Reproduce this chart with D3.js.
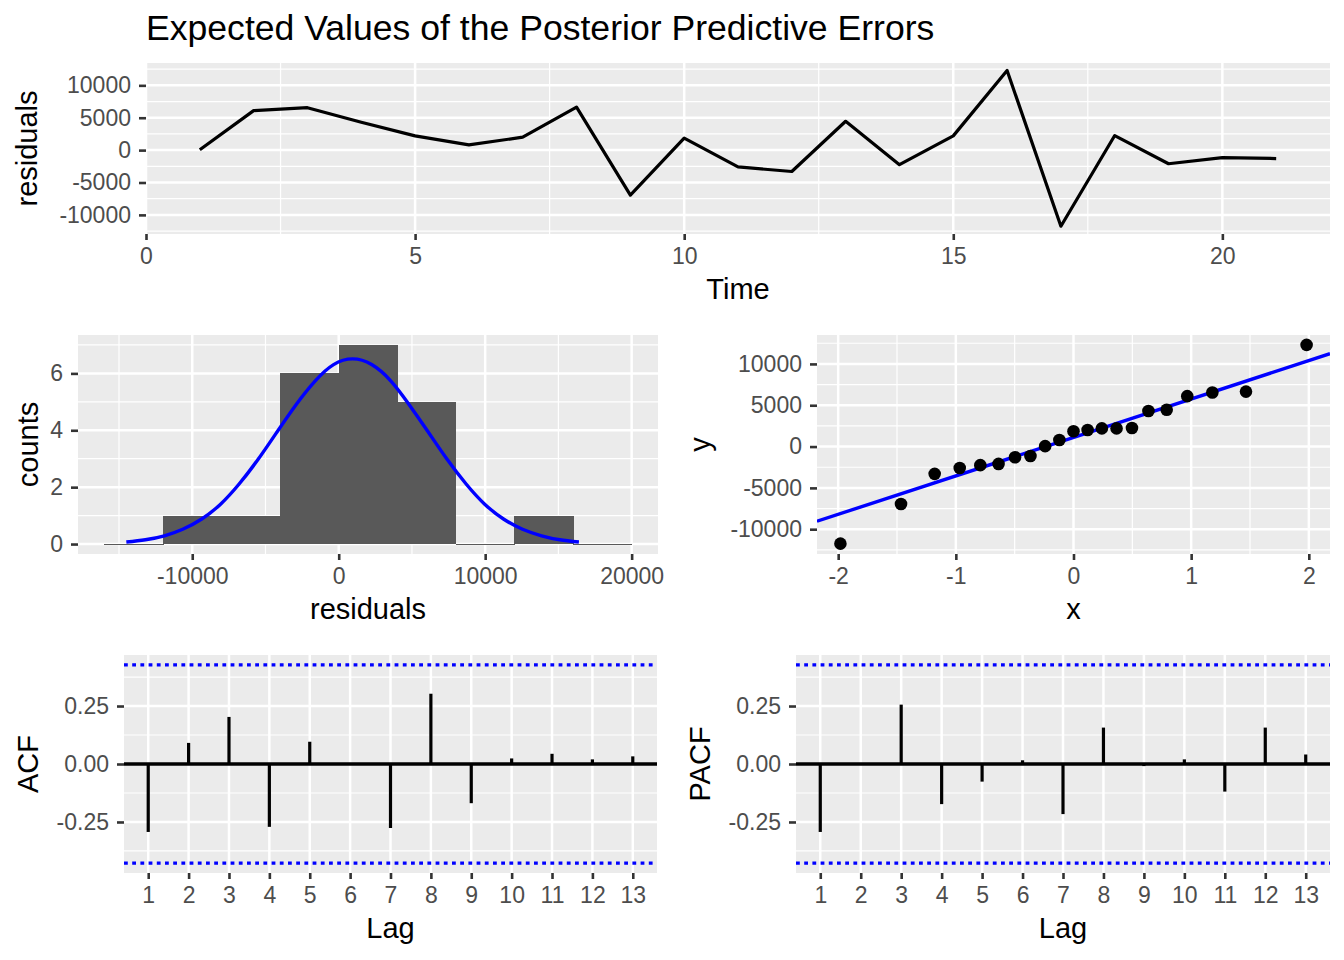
<!DOCTYPE html>
<html>
<head>
<meta charset="utf-8">
<script src="https://cdn.jsdelivr.net/npm/d3@7"></script>
<style>
  body { margin: 0; background: #fff; }
  text { font-family: "Liberation Sans", Arial, Helvetica, sans-serif; }
</style>
</head>
<body>
<script>
// residual series
const timeSteps = [1, 2, 3, 4, 5, 6, 7, 8, 9, 10, 11, 12, 13, 14, 15, 16, 17, 18, 19, 20, 21];
const residuals = [50, 6100, 6550, 4300, 2200, 800, 2000, 6650, -6950, 1850, -2600,
                   -3300, 4450, -2250, 2200, 12300, -11750, 2250, -2100, -1150, -1300];

// histogram
const binEdges = [-16000, -12000, -8000, -4000, 0, 4000, 8000, 12000, 16000, 20000];
const binCounts = [0, 1, 1, 6, 7, 5, 0, 1, 0];
const curveX = [-14500, -13200, -11900, -10650, -9350, -8050, -6800, -5500, -4200, -2900, -1600, -350, 950,
                2250, 3550, 4800, 6100, 7400, 8700, 9950, 11250, 12550, 13850, 15100, 16400];
const curveY = [0.07, 0.15, 0.29, 0.52, 0.88, 1.41, 2.11, 2.98, 3.95, 4.91, 5.74, 6.31, 6.51,
                6.31, 5.74, 4.91, 3.95, 2.98, 2.11, 1.41, 0.88, 0.52, 0.29, 0.15, 0.07];

// qq plot
const qqTheoretical = [-1.981, -1.466, -1.180, -0.967, -0.792, -0.637, -0.497, -0.366, -0.241, -0.120, 0,
                       0.120, 0.241, 0.366, 0.497, 0.637, 0.792, 0.967, 1.180, 1.466, 1.981];
const qqIntercept = 1100;
const qqSlope = 4650;

// correlograms
const lags = [1, 2, 3, 4, 5, 6, 7, 8, 9, 10, 11, 12, 13];
const acfValues = [-0.293, 0.091, 0.203, -0.271, 0.096, 0.003, -0.276, 0.303, -0.169, 0.024, 0.044, 0.020, 0.033];
const pacfValues = [-0.293, 0.003, 0.256, -0.173, -0.076, 0.016, -0.216, 0.157, -0.009, 0.020, -0.119, 0.157, 0.041];
const confBound = 0.4277;

const W = 1344, H = 960;
const svg = d3.select('body').append('svg').attr('width', W).attr('height', H);

function panel(box, x, y, opt) {
  const g = svg.append('g');
  g.append('rect')
    .attr('x', box.l).attr('y', box.t)
    .attr('width', box.r - box.l).attr('height', box.b - box.t)
    .attr('fill', '#EBEBEB');

  const grid = (vals, vertical, w) => {
    g.selectAll(null).data(vals).enter().append('line')
      .attr('x1', d => vertical ? x(d) : box.l)
      .attr('x2', d => vertical ? x(d) : box.r)
      .attr('y1', d => vertical ? box.t : y(d))
      .attr('y2', d => vertical ? box.b : y(d))
      .attr('stroke', '#fff').attr('stroke-width', w);
  };
  grid(opt.xMinor || [], true, 1.2);
  grid(opt.yMinor || [], false, 1.2);
  grid(opt.xMajor, true, 2.5);
  grid(opt.yMajor, false, 2.5);

  const ax = svg.append('g').attr('transform', `translate(0,${box.b})`)
    .call(d3.axisBottom(x).tickValues(opt.xMajor).tickSize(6).tickPadding(8).tickFormat(opt.xFmt || d3.format('d')));
  const ay = svg.append('g').attr('transform', `translate(${box.l},0)`)
    .call(d3.axisLeft(y).tickValues(opt.yMajor).tickSize(7).tickPadding(8).tickFormat(opt.yFmt || d3.format('d')));
  [ax, ay].forEach(a => {
    a.select('.domain').remove();
    a.selectAll('line').attr('stroke', '#333333').attr('stroke-width', 2.6);
    a.selectAll('text').attr('fill', '#4D4D4D').attr('font-size', 23)
      .attr('font-family', '"Liberation Sans", Arial, sans-serif');
  });
  // minus sign as hyphen like R
  svg.selectAll('.tick text').text(function () { return d3.select(this).text().replace('\u2212', '-'); });

  svg.append('text')
    .attr('x', (box.l + box.r) / 2).attr('y', box.b + 65)
    .attr('text-anchor', 'middle').attr('font-size', 29).attr('fill', '#000')
    .text(opt.xTitle);
  svg.append('text')
    .attr('transform', `translate(${opt.yTitleX},${(box.t + box.b) / 2}) rotate(-90)`)
    .attr('text-anchor', 'middle').attr('font-size', 29).attr('fill', '#000')
    .text(opt.yTitle);

  const clipId = 'clip' + Math.round(box.l) + '_' + Math.round(box.t);
  svg.append('clipPath').attr('id', clipId).append('rect')
    .attr('x', box.l).attr('y', box.t).attr('width', box.r - box.l).attr('height', box.b - box.t);
  return svg.append('g').attr('clip-path', `url(#${clipId})`);
}

// title
svg.append('text').attr('x', 146).attr('y', 40).attr('font-size', 35.6).attr('fill', '#000')
  .text('Expected Values of the Posterior Predictive Errors');

// ---- top: residuals over time
{
  const box = { l: 146, r: 1330, t: 63, b: 234 };
  const x = d3.scaleLinear().domain([0, 22]).range([box.l, box.r]);
  const y = d3.scaleLinear().domain([-12950, 13450]).range([box.b, box.t]);
  const g = panel(box, x, y, {
    xMajor: [0, 5, 10, 15, 20], xMinor: [2.5, 7.5, 12.5, 17.5],
    yMajor: [-10000, -5000, 0, 5000, 10000], yMinor: [-12500, -7500, -2500, 2500, 7500, 12500],
    xTitle: 'Time', yTitle: 'residuals', yTitleX: 37
  });
  g.append('path')
    .datum(timeSteps.map((t, i) => [t, residuals[i]]))
    .attr('d', d3.line().x(d => x(d[0])).y(d => y(d[1])))
    .attr('fill', 'none').attr('stroke', '#000').attr('stroke-width', 3.2)
    .attr('stroke-linejoin', 'round');
}

// ---- histogram
{
  const box = { l: 78, r: 658, t: 335, b: 554 };
  const x = d3.scaleLinear().domain([-17800, 21800]).range([box.l, box.r]);
  const y = d3.scaleLinear().domain([-0.35, 7.35]).range([box.b, box.t]);
  const g = panel(box, x, y, {
    xMajor: [-10000, 0, 10000, 20000], xMinor: [-15000, -5000, 5000, 15000],
    yMajor: [0, 2, 4, 6], yMinor: [1, 3, 5, 7],
    xTitle: 'residuals', yTitle: 'counts', yTitleX: 38
  });
  const bins = binCounts.map((c, i) => ({ x0: binEdges[i], x1: binEdges[i + 1], n: c }));
  g.selectAll(null).data(bins).enter().append('rect')
    .attr('x', d => x(d.x0)).attr('width', d => x(d.x1) - x(d.x0) + 0.6)
    .attr('y', d => y(d.n)).attr('height', d => Math.max(y(0) - y(d.n), 1))
    .attr('fill', '#595959').attr('shape-rendering', 'crispEdges');
  g.append('path')
    .datum(curveX.map((v, i) => [v, curveY[i]]))
    .attr('d', d3.line().curve(d3.curveNatural).x(d => x(d[0])).y(d => y(d[1])))
    .attr('fill', 'none').attr('stroke', '#0000FF').attr('stroke-width', 3.4);
}

// ---- qq plot
{
  const box = { l: 817, r: 1330, t: 335, b: 554 };
  const x = d3.scaleLinear().domain([-2.18, 2.18]).range([box.l, box.r]);
  const y = d3.scaleLinear().domain([-13000, 13500]).range([box.b, box.t]);
  const g = panel(box, x, y, {
    xMajor: [-2, -1, 0, 1, 2], xMinor: [-1.5, -0.5, 0.5, 1.5],
    yMajor: [-10000, -5000, 0, 5000, 10000], yMinor: [-12500, -7500, -2500, 2500, 7500, 12500],
    xTitle: 'x', yTitle: 'y', yTitleX: 710
  });
  const sorted = d3.sort(residuals);
  const xd = x.domain();
  g.append('line')
    .attr('x1', x(xd[0])).attr('y1', y(qqIntercept + qqSlope * xd[0]))
    .attr('x2', x(xd[1])).attr('y2', y(qqIntercept + qqSlope * xd[1]))
    .attr('stroke', '#0000FF').attr('stroke-width', 3.4);
  g.selectAll(null).data(qqTheoretical).enter().append('circle')
    .attr('cx', d => x(d)).attr('cy', (d, i) => y(sorted[i]))
    .attr('r', 6.3).attr('fill', '#000');
}

// ---- correlograms
function correlogram(box, values, title, titleX) {
  const x = d3.scaleLinear().domain([0.4, 13.6]).range([box.l, box.r]);
  const y = d3.scaleLinear().domain([-0.47, 0.47]).range([box.b, box.t]);
  const g = panel(box, x, y, {
    xMajor: lags,
    yMajor: [-0.25, 0, 0.25], yMinor: [-0.375, -0.125, 0.125, 0.375],
    yFmt: d3.format('.2f'),
    xTitle: 'Lag', yTitle: title, yTitleX: titleX
  });
  g.append('line').attr('x1', box.l).attr('x2', box.r).attr('y1', y(0)).attr('y2', y(0))
    .attr('stroke', '#000').attr('stroke-width', 3.4);
  g.selectAll(null).data([confBound, -confBound]).enter().append('line')
    .attr('x1', box.l).attr('x2', box.r).attr('y1', d => y(d)).attr('y2', d => y(d))
    .attr('stroke', '#0000FF').attr('stroke-width', 3.2).attr('stroke-dasharray', '3.8,4.4');
  g.selectAll(null).data(lags).enter().append('line')
    .attr('x1', d => x(d)).attr('x2', d => x(d))
    .attr('y1', y(0)).attr('y2', (d, i) => y(values[i]))
    .attr('stroke', '#000').attr('stroke-width', 3.2);
}
correlogram({ l: 124, r: 657, t: 655, b: 873 }, acfValues, 'ACF', 38);
correlogram({ l: 796, r: 1330, t: 655, b: 873 }, pacfValues, 'PACF', 710);
</script>
</body>
</html>
